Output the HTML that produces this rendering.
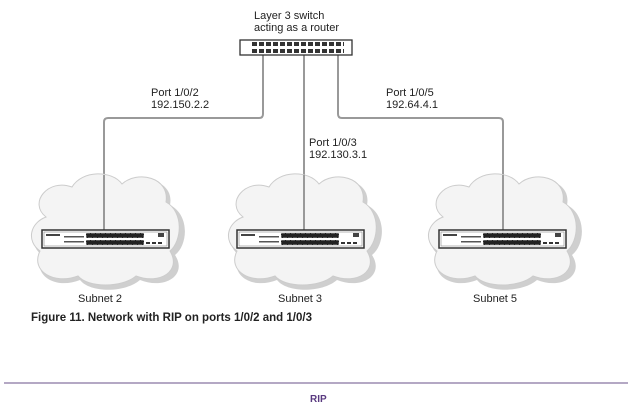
<!DOCTYPE html>
<html><head><style>
body{margin:0;background:#fff;width:639px;height:409px;overflow:hidden;font-family:"Liberation Sans",sans-serif;}
.t{position:absolute;font-size:11px;color:#222;line-height:12px;}
</style></head><body>
<svg width="639" height="409" style="position:absolute;left:0;top:0">
<defs>
<g id="cloud">
<path d="M20,45 C0,30 20,5 45,15 C55,-2 85,-2 95,12 C110,-2 145,5 140,30 C160,40 158,70 145,80 C158,100 135,115 110,105 C95,118 60,118 50,105 C25,115 2,100 12,80 C-2,70 2,50 20,45 Z" fill="#cfcfcf"/>
<path d="M16,42 C-2,28 18,3 42,12 C52,-5 82,-5 92,9 C107,-5 140,2 136,27 C154,37 152,66 140,76 C152,96 130,110 106,101 C92,113 58,113 48,101 C24,110 0,96 10,76 C-4,66 0,48 16,42 Z" fill="#f4f4f4" stroke="#ccc" stroke-width="1"/>
</g>
<g id="sw">
<rect x="0" y="0" width="127" height="18" fill="#fff" stroke="#333" stroke-width="1.5"/>
<rect x="2" y="2" width="123" height="14" fill="none" stroke="#888" stroke-width="0.6"/>
<rect x="44" y="3" width="58" height="5" fill="#222" stroke="#fff" stroke-dasharray="4 1" stroke-width="0.5"/>
<rect x="44" y="10" width="58" height="5" fill="#222" stroke="#fff" stroke-dasharray="4 1" stroke-width="0.5"/>
<rect x="4" y="4" width="14" height="2" fill="#444"/>
<rect x="22" y="6" width="20" height="1.5" fill="#555"/>
<rect x="22" y="11" width="20" height="1.5" fill="#555"/>
<line x1="104" y1="13" x2="120" y2="13" stroke="#333" stroke-width="2" stroke-dasharray="4 2"/>
<rect x="116" y="3" width="6" height="4" fill="#444"/>
</g>
</defs>
<g fill="none" stroke="#999" stroke-width="2">
<path d="M263,55 V114 Q263,118 259,118 H108 Q104,118 104,122 V232"/>
<path d="M304,55 V232"/>
<path d="M338,55 V114 Q338,118 342,118 H499 Q503,118 503,122 V232"/>
</g>
<use href="#cloud" x="30" y="175"/>
<use href="#cloud" x="227" y="175"/>
<use href="#cloud" x="427" y="175"/>
<g fill="none" stroke="#999" stroke-width="2">
<path d="M104,175 V232"/><path d="M304,175 V232"/><path d="M503,175 V232"/>
</g>
<use href="#sw" x="42" y="230"/>
<use href="#sw" x="237" y="230"/>
<use href="#sw" x="439" y="230"/>
<rect x="240" y="40" width="112" height="15" fill="#fff" stroke="#333" stroke-width="1.3"/>
<line x1="252" y1="44" x2="344" y2="44" stroke="#333" stroke-width="4" stroke-dasharray="5 2"/>
<line x1="252" y1="51" x2="344" y2="51" stroke="#333" stroke-width="4" stroke-dasharray="5 2"/>
<line x1="4" y1="383" x2="628" y2="383" stroke="#9b8bb0" stroke-width="1.5"/>
</svg>
<div class="t" style="left:254px;top:10px">Layer 3 switch<br>acting as a router</div>
<div class="t" style="left:151px;top:87px">Port 1/0/2<br>192.150.2.2</div>
<div class="t" style="left:309px;top:137px">Port 1/0/3<br>192.130.3.1</div>
<div class="t" style="left:386px;top:87px">Port 1/0/5<br>192.64.4.1</div>
<div class="t" style="left:78px;top:293px">Subnet 2</div>
<div class="t" style="left:278px;top:293px">Subnet 3</div>
<div class="t" style="left:473px;top:293px">Subnet 5</div>
<div class="t" style="left:31px;top:312px;font-weight:bold;font-size:11.5px">Figure 11. Network with RIP on ports 1/0/2 and 1/0/3</div>
<div class="t" style="left:310px;top:394px;font-weight:bold;font-size:10px;color:#5a3a80">RIP</div>
</body></html>
